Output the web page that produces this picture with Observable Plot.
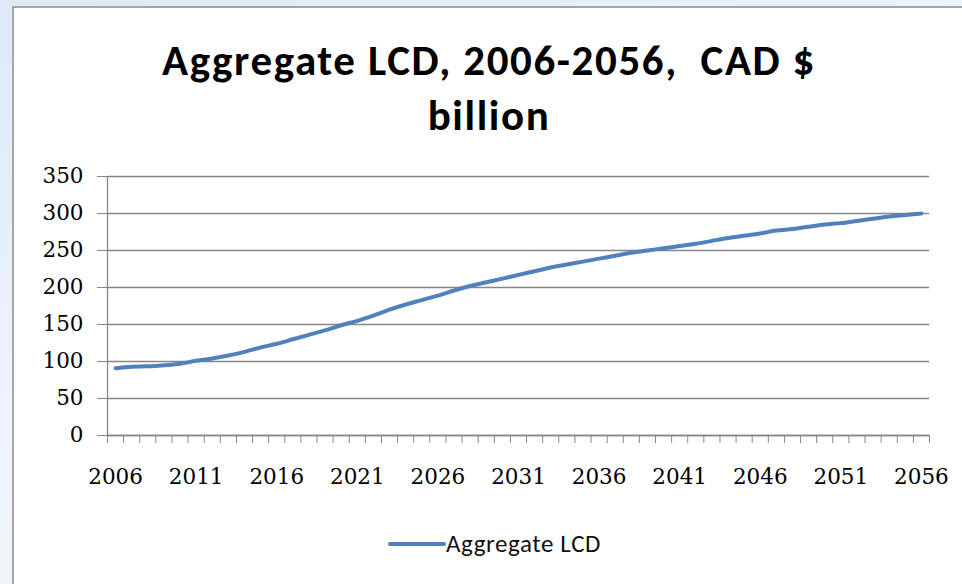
<!DOCTYPE html>
<html>
<head>
<meta charset="utf-8">
<script src="https://cdn.jsdelivr.net/npm/d3@7"></script>
<script src="https://cdn.jsdelivr.net/npm/@observablehq/plot@0.6"></script>
<style>
  body { margin: 0; }
  #page {
    position: relative; width: 962px; height: 584px; overflow: hidden;
    background: linear-gradient(160deg, #dfe9f5 0%, #eef4fb 45%, #f4f8fd 100%);
  }
  #panel {
    position: absolute; left: 12px; top: 6px; width: 980px; height: 600px;
    background: #fff; border: 2px solid #a6a6a6;
  }
  #title {
    position: absolute; left: 8px; width: 962px; top: 33px;
    text-align: center; font-family: Carlito, Lato, sans-serif; font-weight: bold;
    font-size: 43px; line-height: 55px; letter-spacing: 1.6px; color: #000;
  }
  #chart { position: absolute; left: 0; top: 150px; }
  #legend {
    position: absolute; left: 388px; top: 528px; display: flex; align-items: center;
    font-family: Carlito, "Open Sans", sans-serif; font-size: 25px; color: #111;
  }
</style>
</head>
<body>
<div id="page">
  <div id="panel"></div>
  <div id="title">Aggregate LCD, 2006-2056,&nbsp; CAD $<br>billion</div>
  <div id="chart"></div>
  <div id="legend">
    <svg width="58" height="10"><line x1="2" x2="56" y1="5" y2="5" stroke="#4F81BD" stroke-width="4" stroke-linecap="round"></line></svg>
    <span style="letter-spacing:0.6px">Aggregate LCD</span>
  </div>
</div>
<script>
let years = d3.range(2006, 2057); // one category per year
let lcd = [91, 93, 93.5, 95, 97, 101, 104, 108, 113, 119,
           124, 130, 136, 142, 149, 155, 162, 170, 177, 183,
           189, 196, 202, 207, 212, 217, 222, 227, 231, 235,
           239, 243, 247, 250, 253, 256, 259, 263, 267, 270,
           273, 277, 279, 282, 285, 287, 290, 293, 296, 298, 300];
let labelYears = [2006, 2011, 2016, 2021, 2026, 2031, 2036, 2041, 2046, 2051, 2056];
let yTicks = [0, 50, 100, 150, 200, 250, 300, 350];

let data = years.map((y, i) => ({ year: y, value: lcd[i] }));
// tick marks sit between categories, like an Excel category axis
let bounds = years.map(y => y - 0.5).concat([years[years.length - 1] + 0.5]);

let chart = Plot.plot({
  width: 962,
  height: 350,
  marginLeft: 107,
  marginRight: 33,
  marginTop: 26,
  marginBottom: 65,
  x: { type: "linear", domain: [bounds[0], bounds[bounds.length - 1]] },
  y: { domain: [0, 350] },
  style: { fontFamily: "DejaVu Serif", fontSize: "21.5px", color: "#868686", background: "transparent" },
  marks: [
    Plot.gridY(yTicks, { stroke: "#868686", strokeOpacity: 1, strokeWidth: 1.3 }),
    Plot.axisY(yTicks, { tickSize: 10, tickPadding: 14, fill: "#000", tickFormat: d => String(d), label: null }),
    Plot.axisX(bounds, { tickSize: 8, tickFormat: () => "", label: null }),
    Plot.axisX(labelYears, { tickSize: 0, tickPadding: 33, fill: "#000", tickFormat: d => String(d), label: null }),
    Plot.ruleX([bounds[0]], { stroke: "#868686", strokeWidth: 1.3 }),
    Plot.ruleY([0], { stroke: "#868686", strokeWidth: 1.3 }),
    Plot.line(data, { x: "year", y: "value", stroke: "#4F81BD", strokeWidth: 4, curve: "monotone-x" })
  ]
});

d3.select("#chart").append(() => chart);
</script>
</body>
</html>
